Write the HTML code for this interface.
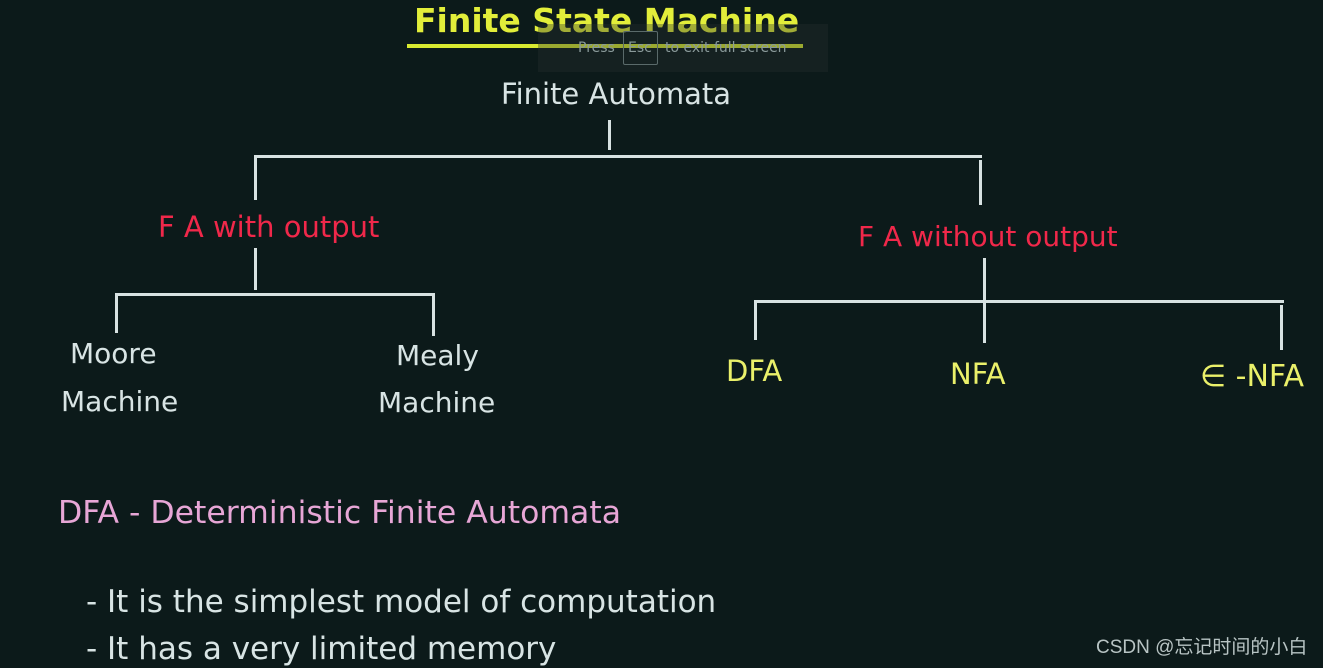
<!DOCTYPE html>
<html><head><meta charset="utf-8"><style>
body{margin:0;width:1323px;height:668px;background:#0c1a1a;overflow:hidden;position:relative;font-family:"DejaVu Sans","Liberation Sans",sans-serif}
.t{position:absolute;white-space:nowrap;line-height:1}
.w{color:#d8e4e4;font-size:29px}
.r{color:#f0284a;font-size:28px}
.y{color:#eaf06a;font-size:28px}
.p{color:#e7a6d6;font-size:31px}
.l{position:absolute;background:#d8e2e2}
</style></head><body>
<div class="t" style="left:414px;top:4px;font-size:33px;font-weight:bold;color:#e2ee3a">Finite State Machine</div>
<div style="position:absolute;left:407px;top:44px;width:396px;height:4px;background:#d8ea30"></div>
<div style="position:absolute;left:538px;top:24px;width:290px;height:48px;background:rgba(40,50,50,0.35)"></div>
<div class="t" style="left:578px;top:41px;font-size:14px;color:#8a9a9a">Press</div>
<div style="position:absolute;left:623px;top:31px;width:33px;height:32px;border:1px solid #5a6a6a;border-radius:2px"></div>
<div class="t" style="left:628px;top:41px;font-size:14px;color:#8a9a9a">Esc</div>
<div class="t" style="left:665px;top:41px;font-size:14px;color:#8a9a9a">to exit full screen</div>

<div class="t w" style="left:501px;top:80px">Finite Automata</div>
<div class="l" style="left:608px;top:120px;width:3px;height:30px"></div>
<div class="l" style="left:254px;top:155px;width:728px;height:3px"></div>
<div class="l" style="left:254px;top:155px;width:3px;height:45px"></div>
<div class="l" style="left:979px;top:160px;width:3px;height:45px"></div>

<div class="t r" style="left:158px;top:213px;font-size:29px">F A with output</div>
<div class="t r" style="left:858px;top:223px">F A without output</div>

<div class="l" style="left:254px;top:248px;width:3px;height:42px"></div>
<div class="l" style="left:115px;top:293px;width:320px;height:3px"></div>
<div class="l" style="left:115px;top:293px;width:3px;height:40px"></div>
<div class="l" style="left:432px;top:296px;width:3px;height:40px"></div>

<div class="l" style="left:983px;top:258px;width:3px;height:85px"></div>
<div class="l" style="left:754px;top:300px;width:530px;height:3px"></div>
<div class="l" style="left:754px;top:300px;width:3px;height:40px"></div>
<div class="l" style="left:1280px;top:305px;width:3px;height:45px"></div>

<div class="t w" style="left:70px;top:340px;font-size:28px">Moore</div>
<div class="t w" style="left:61px;top:388px;font-size:28px">Machine</div>
<div class="t w" style="left:396px;top:342px;font-size:28px">Mealy</div>
<div class="t w" style="left:378px;top:389px;font-size:28px">Machine</div>

<div class="t y" style="left:726px;top:357px;font-size:29px">DFA</div>
<div class="t y" style="left:950px;top:360px;font-size:29px">NFA</div>
<div class="t y" style="left:1200px;top:362px;font-size:30px">∈ -NFA</div>

<div class="t p" style="left:58px;top:498px;font-size:31.5px">DFA - Deterministic Finite Automata</div>
<div class="t w" style="left:86px;top:587px;font-size:31px">- It is the simplest model of computation</div>
<div class="t w" style="left:86px;top:634px;font-size:31px">- It has a very limited memory</div>

<div class="t" style="left:1096px;top:638px;font-size:19px;color:#b8c4c4;font-family:'Liberation Sans','Noto Sans CJK SC',sans-serif">CSDN @忘记时间的小白</div>
</body></html>
